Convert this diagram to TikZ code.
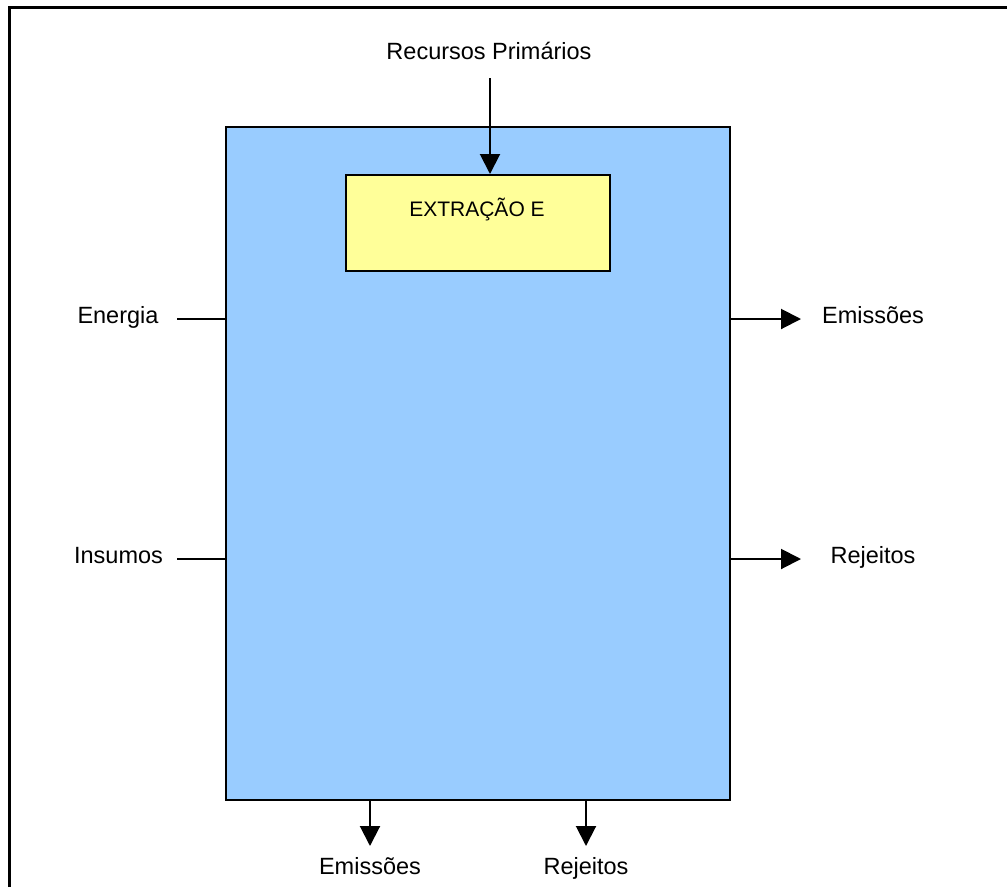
\documentclass[tikz,border=0pt]{standalone}
\usepackage{fontspec}
\setmainfont{Liberation Sans}
\usetikzlibrary{arrows.meta}
\definecolor{procblue}{HTML}{99CCFF}
\definecolor{stageyellow}{HTML}{FFFF99}
\tikzset{
  flowlabel/.style={font=\fontsize{23.5}{28}\selectfont, anchor=base, inner sep=0pt},
  procbox/.style={draw=black, line width=2pt, fill=procblue, minimum width=504pt, minimum height=673pt, inner sep=0pt},
  stagebox/.style={draw=black, line width=2pt, fill=stageyellow, minimum width=264pt, minimum height=96pt, inner sep=0pt},
  stagetext/.style={font=\fontsize{21}{25}\selectfont, anchor=base, inner sep=0pt},
  flow/.style={line width=2pt},
  flowarrow/.style={line width=2pt, -{Triangle[width=20pt,length=20pt]}},
}
\begin{document}
\begin{tikzpicture}[x=1pt,y=-1pt]
  \useasboundingbox (0,0) rectangle (1007,887);
  % page frame (top and left rules)
  \draw[line width=3pt] (9,887) -- (9,7) -- (1007,7);

  % process block and extraction stage
  \node[procbox] (proc) at (478,463.5) {};
  \node[stagebox] (ext) at (478,223) {};
  \node[stagetext] (extlabel) at (477,216) {EXTRAÇÃO E};

  % primary resources entering from above
  \node[flowlabel] (rp) at (489,59) {Recursos Primários};
  \coordinate (rpin) at (490,78);
  \draw[flowarrow] (rpin) -- (rpin |- ext.north);

  % inputs on the left
  \node[flowlabel] (energia) at (118,323) {Energia};
  \coordinate (enin) at (177,319);
  \draw[flow] (enin) -- (enin -| proc.west);

  \node[flowlabel] (insumos) at (118.5,563) {Insumos};
  \coordinate (insin) at (177,559);
  \draw[flow] (insin) -- (insin -| proc.west);

  % outputs on the right
  \coordinate (emout) at (801,319);
  \draw[flowarrow] (emout -| proc.east) -- (emout);
  \node[flowlabel] (emR) at (873,323) {Emissões};

  \coordinate (rjout) at (801,559);
  \draw[flowarrow] (rjout -| proc.east) -- (rjout);
  \node[flowlabel] (rjR) at (873,563) {Rejeitos};

  % outputs at the bottom
  \coordinate (emdown) at (370,846);
  \draw[flowarrow] (emdown |- proc.south) -- (emdown);
  \node[flowlabel] (emB) at (370,874) {Emissões};

  \coordinate (rjdown) at (586,846);
  \draw[flowarrow] (rjdown |- proc.south) -- (rjdown);
  \node[flowlabel] (rjB) at (586,874) {Rejeitos};
\end{tikzpicture}
\end{document}
